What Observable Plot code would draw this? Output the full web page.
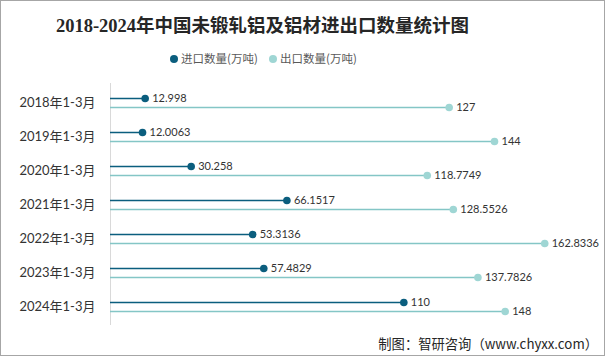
<!DOCTYPE html>
<html><head><meta charset="utf-8">
<script src="https://cdn.jsdelivr.net/npm/d3@7"></script>
<script src="https://cdn.jsdelivr.net/npm/@observablehq/plot@0.6"></script>
<style>
body{margin:0;background:#fff;}
#wrap{position:relative;width:605px;height:356px;overflow:hidden;background:#fff;}
#border{position:absolute;left:0;top:0;width:603px;height:354px;border:1px solid #a6a6a6;pointer-events:none;}
#title{position:absolute;left:0;width:525px;top:11px;text-align:center;font-family:"Liberation Serif","Noto Sans CJK SC",serif;font-weight:bold;font-size:18.5px;color:#262626;white-space:nowrap;}
.leg{position:absolute;top:50px;font-family:"Noto Sans CJK SC",sans-serif;font-size:11.5px;color:#595959;white-space:nowrap;line-height:16px;}
.leg span{display:inline-block;width:8px;height:8px;border-radius:50%;margin-right:3px;vertical-align:0px;}
#foot{position:absolute;right:7px;top:334px;font-family:"Noto Sans CJK SC",sans-serif;font-size:13.3px;color:#262626;white-space:nowrap;}
#chart{position:absolute;left:0;top:0;}
</style></head>
<body>
<div id="wrap">
<div id="chart"></div>
<div id="title"></div>
<div class="leg" id="leg1" style="left:170px"></div>
<div class="leg" id="leg2" style="left:269px"></div>
<div id="foot"></div>
<div id="border"></div>
</div>
<script>
const title = "2018-2024年中国未锻轧铝及铝材进出口数量统计图";
const categories = ["2018年1-3月","2019年1-3月","2020年1-3月","2021年1-3月","2022年1-3月","2023年1-3月","2024年1-3月"];
const seriesNames = ["进口数量(万吨)","出口数量(万吨)"];
const importValues = [12.998, 12.0063, 30.258, 66.1517, 53.3136, 57.4829, 110];
const exportValues = [127, 144, 118.7749, 128.5526, 162.8336, 137.7826, 148];
const importLabels = ["12.998","12.0063","30.258","66.1517","53.3136","57.4829","110"];
const exportLabels = ["127","144","118.7749","128.5526","162.8336","137.7826","148"];
const footer = "制图：智研咨询（www.chyxx.com）";

const darkC = "#0b5e7e", lightC = "#9fd6d4", lightLine = "#84c6c6";

document.getElementById("title").textContent = title;
document.getElementById("leg1").innerHTML = `<span style="background:${darkC}"></span>` + seriesNames[0];
document.getElementById("leg2").innerHTML = `<span style="background:${lightC}"></span>` + seriesNames[1];
document.getElementById("foot").textContent = footer;

const imp = categories.map((c,i)=>({cat:c, value:importValues[i], label:importLabels[i]}));
const exp = categories.map((c,i)=>({cat:c, value:exportValues[i], label:exportLabels[i]}));

const plot = Plot.plot({
  width: 605, height: 356,
  marginTop: 83, marginBottom: 31, marginLeft: 110, marginRight: 15,
  style: {fontFamily: "Lato, 'Noto Sans CJK SC', sans-serif", background: "transparent"},
  x: {domain: [0, 180], axis: null},
  y: {type: "point", domain: categories, padding: 0.5, label: null},
  marks: [
    Plot.axisY({tickSize: 0, tickPadding: 15, fontSize: 13, color: "#333", label: null}),
    Plot.ruleX([0], {stroke: "#d9d9d9", strokeWidth: 1}),
    Plot.ruleY(exp, {y: "cat", x1: 0, x2: "value", dy: 5, stroke: lightLine, strokeWidth: 1.3}),
    Plot.ruleY(imp, {y: "cat", x1: 0, x2: "value", dy: -4, stroke: darkC, strokeWidth: 1.5}),
    Plot.dot(exp, {y: "cat", x: "value", dy: 5, r: 3.8, fill: lightC}),
    Plot.dot(imp, {y: "cat", x: "value", dy: -4, r: 3.8, fill: darkC}),
    Plot.text(exp, {y: "cat", x: "value", text: "label", dy: 5, dx: 7, textAnchor: "start", fontSize: 11, fill: "#333"}),
    Plot.text(imp, {y: "cat", x: "value", text: "label", dy: -4, dx: 7, textAnchor: "start", fontSize: 11, fill: "#333"})
  ]
});
document.getElementById("chart").appendChild(plot);
</script>
</body></html>
